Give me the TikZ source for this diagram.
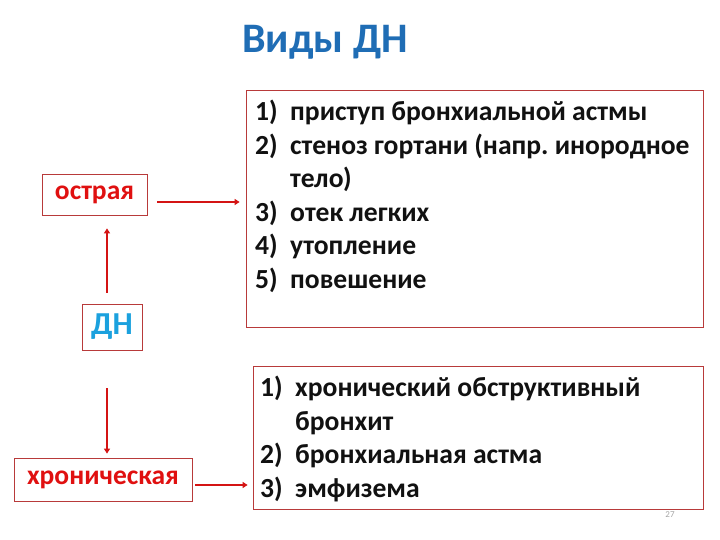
\documentclass[tikz,border=0pt]{standalone}
\usepackage{fontspec}
\setmainfont{Carlito}
\usetikzlibrary{arrows.meta}
\definecolor{arrred}{HTML}{D41414}
\definecolor{boxred}{HTML}{B83A3A}
\definecolor{lblred}{HTML}{E01010}
\definecolor{dnblue}{HTML}{1BA1DE}
\definecolor{titleblue}{HTML}{1F6DB5}
\definecolor{txt}{HTML}{111111}
\frenchspacing
\tikzset{
  box/.style={draw=boxred, line width=0.8pt, inner sep=0pt},
  lbl/.style={font=\fontsize{27.5}{30}\selectfont\bfseries, text=lblred},
  arr/.style={draw=arrred, line width=1.6pt, -{Triangle[length=5pt,width=6pt]}},
  listtxt/.style={inner sep=0pt, anchor=north west, text=txt, align=left,
    font=\fontsize{27.6}{33.5}\selectfont\bfseries}
}
\begin{document}
\begin{tikzpicture}[x=1pt,y=-1pt]
\useasboundingbox[fill=white] (0,0) rectangle (720,540);
% title
\node[font=\fontsize{42}{46}\selectfont\bfseries, text=titleblue] (title) at (325,42) {Виды ДН};
% left boxes
\node[box, minimum width=105pt, minimum height=41pt] (ostr) at (94.5,194.5) {};
\node[lbl] (ostrt) at (ostr.center) {острая};
\node[box, minimum width=60pt, minimum height=46pt] (dn) at (112,327) {};
\node[font=\fontsize{32}{36}\selectfont\bfseries, text=dnblue] (dnt) at (dn.center) {ДН};
\node[box, minimum width=178pt, minimum height=43pt] (chr) at (103,479.5) {};
\node[lbl] (chrt) at (chr.center) {хроническая};
% right boxes
\node[box, minimum width=457pt, minimum height=237pt] (top) at (474.5,208.5) {};
\node[box, minimum width=450pt, minimum height=143pt] (bot) at (478,437.5) {};
% list texts
\node[listtxt] (toplist) at (255,97) {%
\begin{tabular}{@{}p{35pt}@{}l@{}}
1) & приступ бронхиальной астмы\\
2) & стеноз гортани (напр. инородное\\
   & тело)\\
3) & отек легких\\
4) & утопление\\
5) & повешение
\end{tabular}};
\node[listtxt] (botlist) at (260,373) {%
\begin{tabular}{@{}p{35pt}@{}l@{}}
1) & хронический обструктивный\\
   & бронхит\\
2) & бронхиальная астма\\
3) & эмфизема
\end{tabular}};
\node[font=\fontsize{9}{10}\selectfont, text=gray!70] (pg) at (670,515) {27};
% connectors
\coordinate (upS) at ([xshift=-5pt,yshift=11pt]dn.north);
\coordinate (upE) at (upS |- ostr.south);
\draw[arr] (upS) -- ([yshift=-13pt]upE);
\coordinate (dnS) at ([xshift=-5pt,yshift=-38pt]dn.south);
\coordinate (dnE) at (dnS |- chr.north);
\draw[arr] (dnS) -- ([yshift=4pt]dnE);
\coordinate (r1S) at ([xshift=10pt,yshift=-7.5pt]ostr.east);
\coordinate (r1E) at (r1S -| top.west);
\draw[arr] (r1S) -- ([xshift=-6pt]r1E);
\coordinate (r2S) at ([xshift=3pt,yshift=-5.5pt]chr.east);
\coordinate (r2E) at (r2S -| bot.west);
\draw[arr] (r2S) -- ([xshift=-5pt]r2E);
\end{tikzpicture}
\end{document}
